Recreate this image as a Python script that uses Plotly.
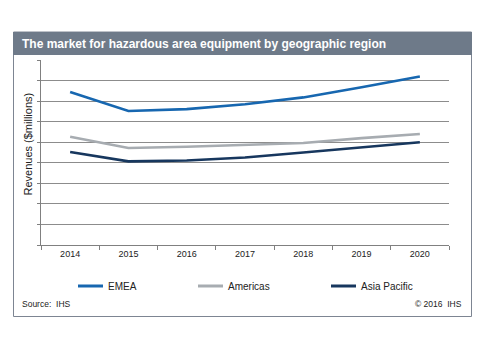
import plotly.graph_objects as go

years = ["2014", "2015", "2016", "2017", "2018", "2019", "2020"]
emea = [7.44, 6.52, 6.61, 6.85, 7.18, 7.67, 8.2]
americas = [5.27, 4.72, 4.78, 4.87, 4.96, 5.2, 5.4]
asia_pacific = [4.52, 4.07, 4.11, 4.26, 4.5, 4.75, 5.0]
series_names = ["EMEA", "Americas", "Asia Pacific"]
colors = ["#1767b0", "#a7acb1", "#17375e"]

W, H = 485, 350
L, R, T, B = 41, 449, 60, 245


def px(x):
    return (x - L) / (R - L)


def py(y):
    return (B - y) / (B - T)


fig = go.Figure()
for name, vals, c in zip(series_names, [emea, americas, asia_pacific], colors):
    fig.add_trace(go.Scatter(x=years, y=vals, mode="lines", name=name,
                             line=dict(color=c, width=2.6), showlegend=False))

shapes = []
annotations = []
# outer frame
shapes.append(dict(type="rect", xref="paper", yref="paper",
                   x0=px(13.5), x1=px(471.5), y0=py(316.5), y1=py(32),
                   line=dict(color="#7d8592", width=1), fillcolor="rgba(0,0,0,0)", layer="below"))
# title bar
shapes.append(dict(type="rect", xref="paper", yref="paper",
                   x0=px(13), x1=px(472), y0=py(55), y1=py(32),
                   line=dict(width=0), fillcolor="#6e7a89", layer="below"))
annotations.append(dict(xref="paper", yref="paper", x=px(20), y=py(43.5), xanchor="left", yanchor="middle",
                        text="<b>The market for hazardous area equipment by geographic region</b>",
                        showarrow=False, font=dict(family="Arial, Liberation Sans", size=12, color="white")))
# y title
annotations.append(dict(xref="paper", yref="paper", x=px(27.5), y=py(144), xanchor="center", yanchor="middle",
                        text="Revenues ($millions)", textangle=-90, showarrow=False,
                        font=dict(family="Arial, Liberation Sans", size=11, color="#222")))
# legend
leg = [(78, 106), (198, 226), (331, 359)]
for (lx, tx), name, c in zip(leg, series_names, colors):
    shapes.append(dict(type="line", xref="paper", yref="paper", x0=px(lx), x1=px(lx + 25),
                       y0=py(286), y1=py(286), line=dict(color=c, width=3)))
    annotations.append(dict(xref="paper", yref="paper", x=px(tx), y=py(286), xanchor="left", yanchor="middle",
                            text=name, showarrow=False,
                            font=dict(family="Arial, Liberation Sans", size=10, color="#222")))
annotations.append(dict(xref="paper", yref="paper", x=px(20), y=py(304), xanchor="left", yanchor="middle",
                        text="Source:  IHS", showarrow=False,
                        font=dict(family="Arial, Liberation Sans", size=8.5, color="#222")))
annotations.append(dict(xref="paper", yref="paper", x=px(464), y=py(304), xanchor="right", yanchor="middle",
                        text="© 2016  IHS", showarrow=False,
                        font=dict(family="Arial, Liberation Sans", size=8.5, color="#222")))

fig.update_layout(
    width=W, height=H,
    margin=dict(l=L, r=W - R, t=T, b=H - B),
    paper_bgcolor="white", plot_bgcolor="white",
    shapes=shapes, annotations=annotations,
    xaxis=dict(type="category", range=[-0.5, 6.5], showgrid=False, showline=True,
               linecolor="#808080", linewidth=1, ticks="outside", tickson="boundaries",
               ticklen=4, tickcolor="#808080",
               tickfont=dict(family="Arial, Liberation Sans", size=9, color="#222")),
    yaxis=dict(range=[0, 9], dtick=1, showticklabels=False, showgrid=True,
               gridcolor="#8c8c8c", gridwidth=1, showline=True, linecolor="#808080",
               ticks="outside", ticklen=3, tickcolor="#808080", zeroline=False),
)
fig.write_html("out.html")
